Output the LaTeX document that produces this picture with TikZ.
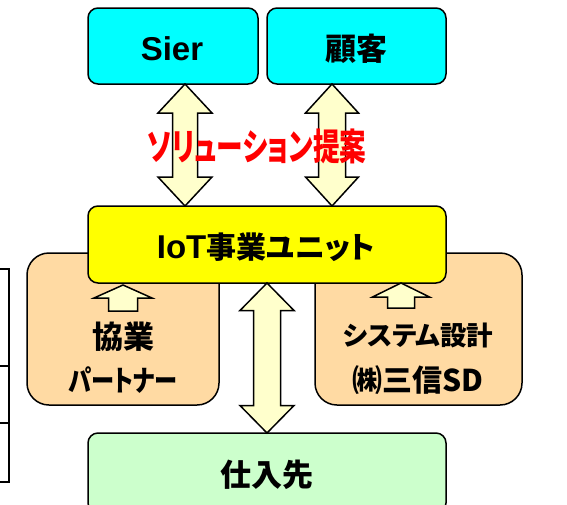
\documentclass[tikz,border=0pt]{standalone}
\usepackage{fontspec}
\setmainfont{Liberation Sans}
\newfontfamily\jp{Noto Sans CJK JP}[RawFeature=+palt]
\definecolor{boxcyan}{HTML}{00FFFF}
\definecolor{boxyellow}{HTML}{FFFF00}
\definecolor{boxpeach}{HTML}{FFDAA3}
\definecolor{boxgreen}{HTML}{CCFFCC}
\definecolor{arrfill}{HTML}{FFFFCC}
\definecolor{redtext}{HTML}{FF0000}
\newcommand\vdarrow[6]{%
  \draw[blockarr] (#1,#2) -- (#1+#5,#2+#4) -- (#1+#6,#2+#4) -- (#1+#6,#3-#4) -- (#1+#5,#3-#4) -- (#1,#3)
    -- (#1-#5,#3-#4) -- (#1-#6,#3-#4) -- (#1-#6,#2+#4) -- (#1-#5,#2+#4) -- cycle;}
\newcommand\uparr[6]{%
  \draw[blockarr] (#1,#2) -- (#1+#5,#2+#4) -- (#1+#6,#2+#4) -- (#1+#6,#3) -- (#1-#6,#3) -- (#1-#6,#2+#4) -- (#1-#5,#2+#4) -- cycle;}
\begin{document}
\begin{tikzpicture}[x=1pt,y=-1pt,
  box/.style={draw=black, line width=1.5pt, rounded corners=10pt, inner sep=0pt},
  bigbox/.style={box, rounded corners=22pt},
  blockarr/.style={draw=black, line width=1.5pt, fill=arrfill, line join=miter},
  lat/.style={font=\fontsize{33}{36}\selectfont\bfseries},
  jpl/.style={font=\fontsize{30}{34}\jp\bfseries},
  tbl/.style={line width=1.5pt}]
\useasboundingbox (0,0) rectangle (567,504);
\clip (0,0) rectangle (567,504);
% left partial table
\draw[tbl] (0,269) -- (9,269) -- (9,482) -- (0,482);
\draw[tbl] (0,366) -- (9,366);
\draw[tbl] (0,423) -- (9,423);
% boxes
\node[bigbox, fill=boxpeach, minimum width=192pt, minimum height=152pt] (partner) at (123,329) {};
\node[bigbox, fill=boxpeach, minimum width=207pt, minimum height=152pt] (sanshin) at (418.5,329) {};
\node[box, fill=boxcyan, minimum width=170pt, minimum height=76pt] (sier) at (173,46) {};
\node[box, fill=boxcyan, minimum width=179pt, minimum height=76pt] (kokyaku) at (356.5,46) {};
\node[box, fill=boxyellow, minimum width=358pt, minimum height=77pt] (iot) at (267,244.5) {};
\node[box, fill=boxgreen, minimum width=358pt, minimum height=80pt] (shiire) at (267,473) {};
% arrows
\vdarrow{185}{84}{206}{29}{27}{12.5}
\vdarrow{332}{84}{206}{29}{26.5}{13.5}
\vdarrow{267}{283}{433}{27.5}{27}{13.5}
\uparr{123}{285}{311}{13}{29}{14.5}
\uparr{401}{283}{308}{14}{28.5}{13.5}
% labels
\node[lat] (tsier) at (172,49) {Sier};
\node[jpl, font=\fontsize{31}{34}\jp\bfseries] (tkokyaku) at (356,49) {顧客};
\node[inner sep=0pt] (tiot) at (266,247) {{\fontsize{33}{36}\selectfont\bfseries IoT}{\fontsize{30}{34}\jp\bfseries 事業ユニット}};
\node[jpl, font=\fontsize{37}{40}\jp\bfseries, text=redtext, xscale=0.72] (tprop) at (257,146) {ソリューション提案};
\node[jpl, font=\fontsize{31}{34}\jp\bfseries] (tkyo) at (123,337) {協業};
\node[jpl, font=\fontsize{29}{30}\jp\bfseries, xscale=0.8] (tpart) at (123,380) {パートナー};
\node[jpl, font=\fontsize{26.5}{30}\jp\bfseries] (tsys) at (418,335) {システム設計};
\node[jpl, font=\fontsize{30}{30}\jp\bfseries] (tsan) at (418,380) {㈱三信SD};
\node[jpl, font=\fontsize{31}{34}\jp\bfseries] (tshiire) at (267,475) {仕入先};
\end{tikzpicture}
\end{document}
